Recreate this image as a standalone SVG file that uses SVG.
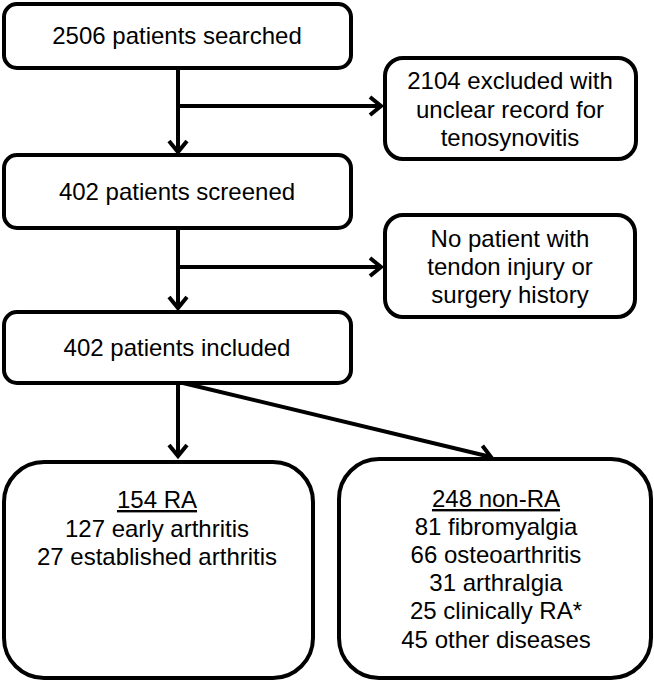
<svg xmlns="http://www.w3.org/2000/svg" width="654" height="681" viewBox="0 0 654 681">
<style>
.box{fill:#fff;stroke:#000;stroke-width:4}
.t{font-family:"Liberation Sans",Arial,sans-serif;font-size:24px;fill:#000;text-anchor:middle}
.u{text-decoration:underline}
.c{fill:none;stroke:#000;stroke-width:4}
</style>
<defs>
<marker id="arr" markerUnits="userSpaceOnUse" viewBox="-16 -12 20 24" refX="0" refY="0" markerWidth="20" markerHeight="24" orient="auto">
<path d="M-11,-9 L0,0 L-11,9" fill="none" stroke="#000" stroke-width="4" stroke-linejoin="miter"/>
</marker>
</defs>
<rect width="654" height="681" fill="#fff"/>
<g id="connectors">
<path class="c" d="M178,68 V152" marker-end="url(#arr)"/>
<path class="c" d="M178,106 H381" marker-end="url(#arr)"/>
<path class="c" d="M178,228 V308" marker-end="url(#arr)"/>
<path class="c" d="M178,267 H381" marker-end="url(#arr)"/>
<path class="c" d="M178,383 V456" marker-end="url(#arr)"/>
<path class="c" d="M183,383 L491,457" marker-end="url(#arr)"/>
</g>
<g id="searched">
<rect class="box" x="4" y="4" width="347" height="64" rx="13"/>
<text class="t" x="177" y="44">2506 patients searched</text>
</g>
<g id="excluded">
<rect class="box" x="385" y="58" width="251" height="101" rx="18"/>
<text class="t" x="510" y="89">2104 excluded with</text>
<text class="t" x="510" y="118">unclear record for</text>
<text class="t" x="510" y="146">tenosynovitis</text>
</g>
<g id="screened">
<rect class="box" x="4" y="155" width="347" height="73" rx="13"/>
<text class="t" x="177" y="200">402 patients screened</text>
</g>
<g id="noinjury">
<rect class="box" x="385" y="215" width="250" height="102" rx="18"/>
<text class="t" x="510" y="247">No patient with</text>
<text class="t" x="510" y="275">tendon injury or</text>
<text class="t" x="510" y="303">surgery history</text>
</g>
<g id="included">
<rect class="box" x="4" y="312" width="347" height="71" rx="13"/>
<text class="t" x="177" y="356">402 patients included</text>
</g>
<g id="ra">
<rect class="box" x="4" y="462" width="309" height="216" rx="40"/>
<text class="t u" x="157" y="508">154 RA</text>
<text class="t" x="157" y="537">127 early arthritis</text>
<text class="t" x="157" y="565">27 established arthritis</text>
</g>
<g id="nonra">
<rect class="box" x="339" y="459" width="312" height="219" rx="40"/>
<text class="t u" x="496" y="507">248 non-RA</text>
<text class="t" x="496" y="535">81 fibromyalgia</text>
<text class="t" x="496" y="563">66 osteoarthritis</text>
<text class="t" x="496" y="591">31 arthralgia</text>
<text class="t" x="496" y="619">25 clinically RA*</text>
<text class="t" x="496" y="648">45 other diseases</text>
</g>
</svg>
